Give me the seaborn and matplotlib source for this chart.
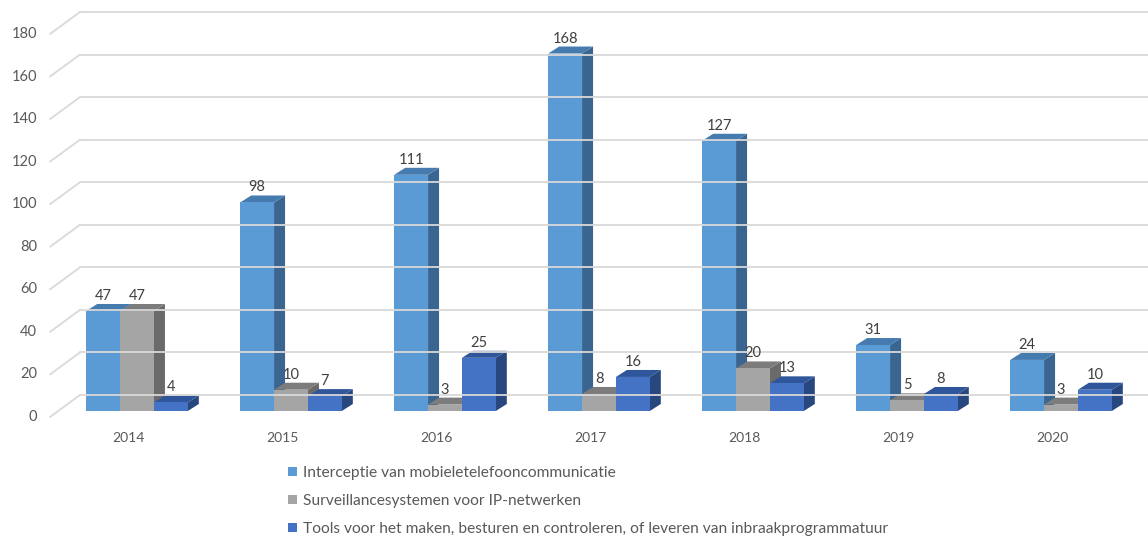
import numpy as np
import pandas as pd
import matplotlib
matplotlib.use("Agg")
import matplotlib.pyplot as plt
import seaborn as sns
from matplotlib.patches import Polygon, Patch
from matplotlib.lines import Line2D
from matplotlib.transforms import IdentityTransform

# ---------------- data ----------------
years = ["2014", "2015", "2016", "2017", "2018", "2019", "2020"]
series = [
    "Interceptie van mobieletelefooncommunicatie",
    "Surveillancesystemen voor IP-netwerken",
    "Tools voor het maken, besturen en controleren, of leveren van inbraakprogrammatuur",
]
interceptie = [47, 98, 111, 168, 127, 31, 24]
surveillance = [47, 10, 3, 8, 20, 5, 3]
tools = [4, 7, 25, 16, 13, 8, 10]
y_ticks = [0, 20, 40, 60, 80, 100, 120, 140, 160, 180]

front_colors = ["#5B9BD5", "#A5A5A5", "#4472C4"]
top_colors = ["#467BB0", "#7C7C7C", "#2F559A"]
side_colors = ["#3A6590", "#6A6A6A", "#29477F"]
text_color = "#595959"

df = pd.DataFrame({
    "year": np.repeat(years, 3),
    "series": series * len(years),
    "value": [v for trio in zip(interceptie, surveillance, tools) for v in trio],
})

sns.set_theme(style="white")
plt.rcParams["font.family"] = ["Lato", "DejaVu Sans"]

W, H = 1148, 537
fig = plt.figure(figsize=(W / 100, H / 100), dpi=100)
ax = fig.add_axes([60 / W, 1 - 411 / H, 1078 / W, 383 / H])

sns.barplot(data=df, x="year", y="value", hue="series", hue_order=series,
            palette=front_colors, saturation=1, width=0.66, gap=0,
            legend=False, ax=ax, linewidth=0, edgecolor="none", errorbar=None)

ax.set_xlim(-0.5, len(years) - 0.5)
ax.set_ylim(0, 180)
for s in ax.spines.values():
    s.set_visible(False)
ax.set_xticks([])
ax.set_yticks([])
ax.set_xlabel("")
ax.set_ylabel("")
ax.patch.set_alpha(0)

fig.canvas.draw()
ident = IdentityTransform()


def to_px(x, y):
    return ax.transData.transform((x, y))


# depth offsets (pixels)
bar_dx, bar_dy = 11, 7          # bar depth
front_off = (-9, -6)            # label plane relative to bar plane
back_off = (21, 16)             # back wall relative to bar plane

x_left = -0.5 - 1 / 154
grid_c = "#D9D9D9"
for v in y_ticks:
    p = to_px(x_left, v)
    fx, fy = p[0] + front_off[0], p[1] + front_off[1]
    bx, by = p[0] + back_off[0], p[1] + back_off[1]
    fig.add_artist(Line2D([fx, bx], [fy, by], transform=ident, color=grid_c, lw=1.3, zorder=0.5))
    fig.add_artist(Line2D([bx, W], [by, by], transform=ident, color=grid_c, lw=1.3, zorder=0.5))
    fig.text(fx - 13, fy, str(v), transform=ident, ha="right", va="center",
             fontsize=10.5, color=text_color)

for i, yr in enumerate(years):
    p = to_px(i, 0)
    fig.text(p[0] - 9, p[1] - 27, yr, transform=ident, ha="center",
             va="center", fontsize=10, color=text_color)

# 3D faces
for h, cont in enumerate(ax.containers):
    for c, rect in enumerate(cont):
        x0, w, hh = rect.get_x(), rect.get_width(), rect.get_height()
        zb = 3 + c * 0.5 + h * 0.1
        rect.set_zorder(zb + 0.05)
        rect.set_edgecolor("none")
        br = to_px(x0 + w, 0)
        tl = to_px(x0, hh)
        tr = to_px(x0 + w, hh)
        top = Polygon([tl, tr, (tr[0] + bar_dx, tr[1] + bar_dy), (tl[0] + bar_dx, tl[1] + bar_dy)],
                      closed=True, transform=ident, facecolor=top_colors[h], edgecolor="none")
        side = Polygon([br, (br[0] + bar_dx, br[1] + bar_dy), (tr[0] + bar_dx, tr[1] + bar_dy), tr],
                       closed=True, transform=ident, facecolor=side_colors[h], edgecolor="none")
        for poly in (side, top):
            poly.set_zorder(zb)
            ax.add_artist(poly)
        fig.text((tl[0] + tr[0]) / 2, tl[1] + 11, f"{int(hh)}", transform=ident,
                 ha="center", va="baseline", fontsize=10.5, color="#404040", zorder=10)

handles = [Patch(facecolor=c, edgecolor="none") for c in front_colors]
fig.legend(handles, series, loc="upper left", bbox_to_anchor=(288 / W, 1 - 466 / H),
           frameon=False, fontsize=11.2, labelspacing=0.9, handlelength=0.55,
           handleheight=0.55, handletextpad=0.4, borderaxespad=0, borderpad=0,
           labelcolor=text_color)

fig.savefig("out.png", dpi=100)
